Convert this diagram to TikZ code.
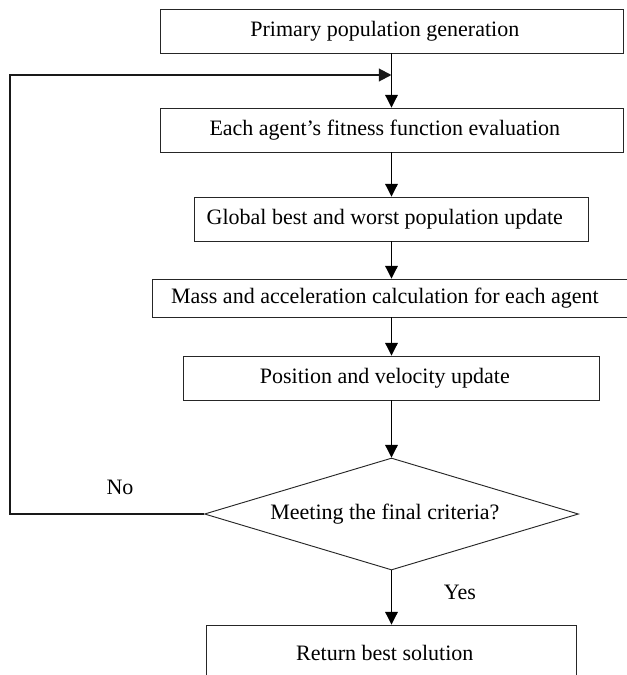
\documentclass[tikz,border=0pt]{standalone}
\usepackage{fontspec}
\setmainfont{Liberation Serif}
\usetikzlibrary{arrows.meta,shapes.geometric}

\begin{document}
\begin{tikzpicture}[
  x=0.75pt, y=-0.75pt,
  font=\fontsize{16.5}{19}\selectfont,
  % text sits a little left of each box's centre
  nudge/.style={execute at end node={\hspace*{10pt}}},
  stepbox/.style={draw=black!85, line width=0.7pt, rectangle, inner sep=0pt,
    minimum width=#1*0.75pt, minimum height=33pt, nudge},
  decision/.style={draw=black!85, line width=0.7pt, diamond, aspect=3.34, inner sep=0pt,
    minimum width=374*0.75pt, minimum height=112*0.75pt, nudge},
  flow/.style={draw=black, line width=0.8pt, -{Triangle[width=9.5pt,length=9.5pt]}},
  loopline/.style={draw=black!90, line width=1.5pt, -{Triangle[width=9.5pt,length=9.5pt]}},
  tag/.style={inner sep=0pt}
]
\useasboundingbox (0,0) rectangle (627,675);
\clip (0,0) rectangle (627,675);

% process steps
\node[stepbox=463] (b1) at (391.5,31) {Primary population generation};
\node[stepbox=463] (b2) at (391.5,130) {Each agent’s fitness function evaluation};
\node[stepbox=394] (b3) at (391.5,219) {Global best and worst population update};
\node[stepbox=478, minimum height=38*0.75pt] (b4) at (391.5,298) {Mass and acceleration calculation for each agent};
\node[stepbox=416] (b5) at (391.5,378) {Position and velocity update};
\node[decision] (dec) at (391.5,514) {Meeting the final criteria?};
\node[stepbox=370, minimum height=56*0.75pt] (b6) at (391.5,653) {Return best solution};

% branch labels
\node[tag] (no) at (120,487) {No};
\node[tag] (yes) at (460,592) {Yes};

% main flow
\draw[flow] (b1) -- (b2);
\draw[flow] (b2) -- (b3);
\draw[flow] (b3) -- (b4);
\draw[flow] (b4) -- (b5);
\draw[flow] (b5) -- (dec);
\draw[flow] (dec) -- (b6);

% return path when the criteria are not met
\coordinate (merge) at (391.5,75);
\coordinate (lowcorner) at (10,514);
\coordinate (highcorner) at (10,75);
\draw[loopline] (dec.west) -- (lowcorner) -- (highcorner) -- (merge);
\end{tikzpicture}
\end{document}
